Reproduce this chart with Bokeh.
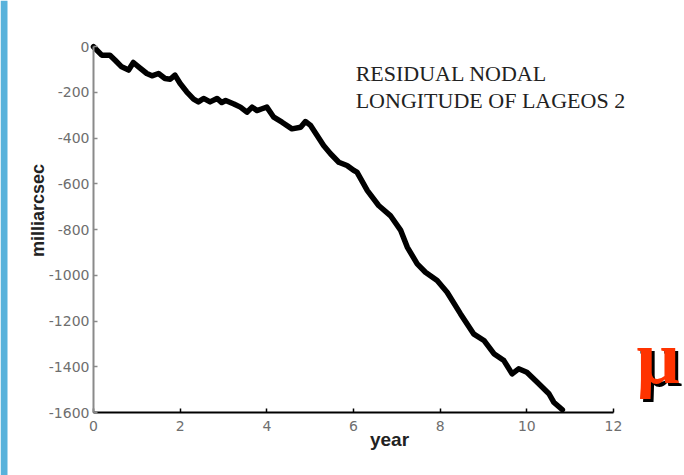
from bokeh.plotting import figure
from bokeh.models import Label, FixedTicker, Range1d, LinearAxis, BoxAnnotation
from bokeh.embed import file_html
from bokeh.resources import INLINE

years = [0.0, 0.19, 0.38, 0.5, 0.65, 0.81, 0.92, 1.04, 1.23, 1.35, 1.5, 1.65, 1.77, 1.88,
         2.0, 2.15, 2.31, 2.42, 2.54, 2.69, 2.85, 2.96, 3.05, 3.24, 3.39, 3.54, 3.66, 3.77,
         3.89, 4.0, 4.16, 4.35, 4.58, 4.78, 4.89, 5.01, 5.16, 5.31, 5.47, 5.66, 5.85, 6.01,
         6.08, 6.32, 6.58, 6.85, 7.09, 7.24, 7.47, 7.66, 7.93, 8.16, 8.47, 8.77, 9.01, 9.24,
         9.47, 9.66, 9.81, 10.0, 10.24, 10.51, 10.62, 10.82]
residual = [-1, -38, -38, -60, -89, -103, -70, -89, -118, -128, -118, -140, -143, -125,
            -162, -198, -230, -242, -227, -242, -227, -245, -236, -251, -265, -287, -265, -280,
            -272, -265, -309, -331, -360, -353, -328, -345, -389, -433, -469, -506, -520, -542,
            -549, -630, -695, -739, -804, -877, -950, -987, -1023, -1074, -1169, -1256, -1285, -1343,
            -1373, -1431, -1409, -1424, -1468, -1518, -1555, -1588]

x_ticks = [0, 2, 4, 6, 8, 10, 12]
y_ticks = [0, -200, -400, -600, -800, -1000, -1200, -1400, -1600]
title_lines = ["RESIDUAL NODAL", "LONGITUDE OF LAGEOS 2"]
y_label = "milliarcsec"
x_label = "year"
mu_text = "\u03bc"

p = figure(width=684, height=475, output_backend="svg", toolbar_location=None,
           x_range=Range1d(-2.146, 13.638), y_range=Range1d(-1875.4, 201.1),
           x_axis_location=None, y_axis_location=None, min_border=0)
p.outline_line_color = None
p.grid.visible = False
p.background_fill_color = "white"
p.border_fill_color = "white"

# light blue strip at the left edge
p.add_layout(BoxAnnotation(left=0, right=7, left_units="screen", right_units="screen",
                           fill_color="#58b2db", fill_alpha=1.0, line_color=None))

xaxis = LinearAxis(fixed_location=y_ticks[-1], bounds=(x_ticks[0], x_ticks[-1]),
                   ticker=FixedTicker(ticks=x_ticks),
                   major_label_overrides={t: str(t) for t in x_ticks})
yaxis = LinearAxis(fixed_location=x_ticks[0], bounds=(y_ticks[-1], y_ticks[0]),
                   ticker=FixedTicker(ticks=y_ticks),
                   major_label_overrides={t: str(t) for t in y_ticks})

for ax in (xaxis, yaxis):
    ax.minor_tick_line_color = None
    ax.major_tick_in = 4
    ax.major_tick_out = 0
    ax.major_label_text_font = "DejaVu Sans"
    ax.major_label_text_font_size = "14px"
    ax.major_label_text_color = "#6e6e6e"

xaxis.axis_line_color = "black"
xaxis.axis_line_width = 2
xaxis.major_tick_line_color = "black"
xaxis.major_tick_line_width = 1.5
xaxis.major_label_standoff = 8

yaxis.axis_line_color = "#8a8a8a"
yaxis.axis_line_width = 2
yaxis.major_tick_line_color = "#8a8a8a"
yaxis.major_tick_line_width = 1.5
yaxis.major_label_standoff = 4

p.add_layout(xaxis, "below")
p.add_layout(yaxis, "left")

p.line(years, residual, line_color="black", line_width=5.5, line_join="round", line_cap="round")

# Title text (serif)
p.add_layout(Label(x=6.05, y=-120, text=title_lines[0], text_font="Liberation Serif",
                   text_font_size="22px", text_color="#222222", text_baseline="alphabetic"))
p.add_layout(Label(x=6.05, y=-234, text=title_lines[1], text_font="Liberation Serif",
                   text_font_size="22px", text_color="#222222", text_baseline="alphabetic"))

# axis labels
p.add_layout(Label(x=-1.29, y=-717, text=y_label, angle=90, angle_units="deg",
                   text_font="Liberation Sans", text_font_style="bold", text_font_size="18px",
                   text_color="#222222", text_align="center", text_baseline="middle"))
p.add_layout(Label(x=6.83, y=-1718, text=x_label,
                   text_font="Liberation Sans", text_font_style="bold", text_font_size="19px",
                   text_color="#222222", text_align="center", text_baseline="middle"))

# red mu with shadow
p.add_layout(Label(x=12.53, y=-1359, x_offset=3, y_offset=-3, text=mu_text,
                   text_font="Liberation Serif", text_font_style="bold", text_font_size="76px",
                   text_color="black", text_baseline="alphabetic"))
p.add_layout(Label(x=12.53, y=-1359, text=mu_text,
                   text_font="Liberation Serif", text_font_style="bold", text_font_size="76px",
                   text_color="#ff3300", text_baseline="alphabetic"))

open("out.html", "w").write(file_html(p, INLINE))
